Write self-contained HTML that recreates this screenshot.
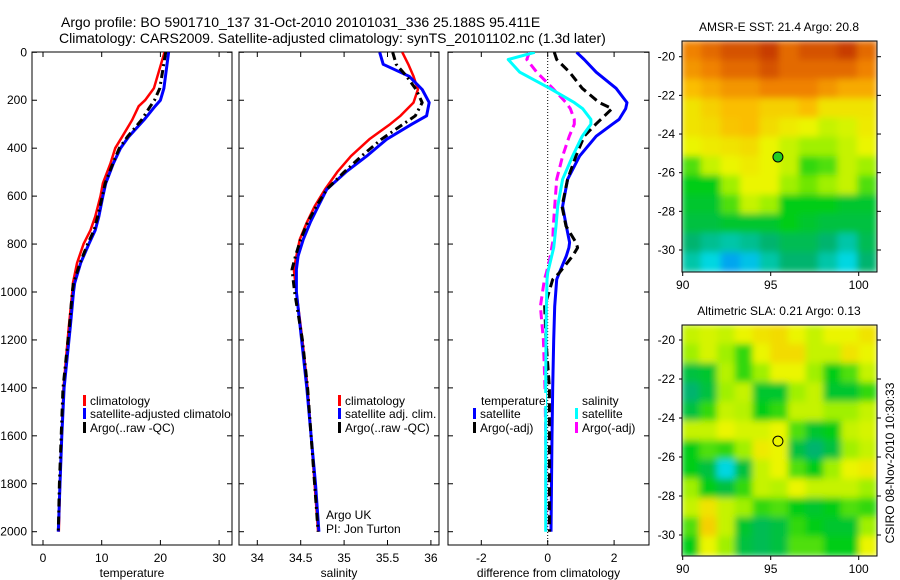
<!DOCTYPE html>
<html><head><meta charset="utf-8"><style>
html,body{margin:0;padding:0;background:#fff;}
svg{display:block;font-family:"Liberation Sans",sans-serif;}
</style></head><body>
<svg id="fig" width="900" height="580" viewBox="0 0 900 580" xmlns="http://www.w3.org/2000/svg">
<defs>
<clipPath id="c1"><rect x="32" y="52" width="200" height="493"/></clipPath>
<clipPath id="c2"><rect x="239" y="52" width="200" height="493"/></clipPath>
<clipPath id="c3"><rect x="448" y="52" width="201" height="493"/></clipPath>
<clipPath id="cm1"><rect x="682" y="41" width="195" height="231"/></clipPath>
<clipPath id="cm2"><rect x="682" y="325" width="195" height="231"/></clipPath>
<filter id="blur" x="-5%" y="-5%" width="110%" height="110%"><feGaussianBlur stdDeviation="3.5" edgeMode="duplicate"/></filter>
</defs>
<rect x="0" y="0" width="900" height="580" fill="#fff"/>
<text x="61" y="27" font-size="14">Argo profile: BO 5901710_137 31-Oct-2010 20101031_336 25.188S 95.411E</text>
<text x="59" y="43" font-size="14">Climatology: CARS2009. Satellite-adjusted climatology: synTS_20101102.nc (1.3d later)</text>
<g id="g"></g>
</svg>
<script>
// ---------- data ----------
const tDepth = [0,150,200,225,282,352,400,463,546,600,686,742,800,880,963,1000,1145,1400,1600,1800,2000];
const tClim  = [20.7,18.9,17.4,16.3,15.2,13.5,12.3,11.5,10.2,9.8,8.9,8.1,6.9,5.8,5.1,5.0,4.4,3.5,3.2,2.9,2.7];
const tSat   = [21.4,20.6,20.0,19.1,17.2,14.6,13.2,12.0,10.7,10.2,9.5,8.9,7.8,6.4,5.4,5.2,4.65,3.6,3.2,2.9,2.6];
const tArgo  = [20.9,19.9,19.0,18.3,16.8,14.4,13.0,11.9,10.6,10.1,9.3,8.7,7.6,6.3,5.2,5.0,4.5,3.4,3.1,2.8,2.6];
const sDepth = [0,50,100,155,210,265,300,363,433,500,572,643,710,780,850,906,1000,1200,1400,1600,1800,2000];
const sClim  = [35.67,35.74,35.8,35.85,35.8,35.65,35.53,35.29,35.08,34.92,34.78,34.66,34.57,34.49,34.45,34.42,34.45,34.52,34.58,34.62,34.66,34.70];
const sSat   = [35.41,35.45,35.75,35.9,35.98,35.95,35.78,35.49,35.26,35.02,34.8,34.7,34.61,34.53,34.47,34.45,34.45,34.51,34.57,34.62,34.67,34.71];
const sArgo  = [35.56,35.6,35.72,35.83,35.9,35.82,35.68,35.43,35.2,35.0,34.8,34.68,34.58,34.5,34.44,34.40,34.43,34.52,34.58,34.62,34.66,34.70];
const dDepth   = [0,30,83,150,210,235,280,300,350,433,530,643,725,793,815,850,920,948,1060,1200,1400,1600,2000];
const dTempSat = [0.87,1.1,1.46,2.06,2.39,2.35,2.15,1.95,1.46,0.96,0.6,0.45,0.56,0.66,0.64,0.56,0.35,0.27,0.21,0.18,0.15,0.13,0.1];
const dTempArgo= [0.2,0.27,0.66,1.04,1.55,1.94,1.6,1.45,1.1,0.85,0.6,0.43,0.55,0.85,0.9,0.75,0.35,0.15,-0.09,-0.05,0.05,0.05,0.05];
const dSalSat  = [-0.39,-1.19,-0.84,0.06,0.8,1.05,1.3,1.3,1.04,0.75,0.45,0.3,0.25,0.2,0.18,0.12,0.0,-0.02,-0.04,-0.05,-0.06,-0.06,-0.06];
const dSalArgo = [-0.55,-0.63,-0.33,0.15,0.55,0.68,0.8,0.8,0.65,0.45,0.27,0.21,0.17,0.15,0.12,0.08,-0.04,-0.1,-0.22,-0.13,-0.08,-0.06,-0.05];
const depthTicks = [0,200,400,600,800,1000,1200,1400,1600,1800,2000];
const tTicks = [0,10,20,30];
const sTicks = [34,34.5,35,35.5,36];
const dTicks = [-2,0,2];
const lonTicks = [90,95,100];
const latTicks = [-20,-22,-24,-26,-28,-30];
const argoLon = 95.411, argoLat = -25.188;
const sstGrid = [
[0.85,0.9,0.95,0.95,1,0.9,0.95,0.95,1,0.9],
[0.8,0.85,0.9,0.9,0.95,0.9,0.9,0.9,0.9,0.85],
[0.7,0.75,0.8,0.8,0.85,0.85,0.85,0.8,0.75,0.75],
[0.6,0.65,0.7,0.7,0.65,0.65,0.7,0.6,0.6,0.6],
[0.6,0.62,0.68,0.7,0.62,0.58,0.55,0.5,0.52,0.58],
[0.55,0.58,0.6,0.62,0.55,0.5,0.45,0.45,0.5,0.55],
[0.4,0.5,0.55,0.58,0.55,0.5,0.38,0.4,0.5,0.45],
[0.35,0.35,0.45,0.55,0.55,0.45,0.42,0.45,0.5,0.4],
[0.32,0.32,0.4,0.5,0.45,0.35,0.35,0.35,0.32,0.32],
[0.3,0.3,0.32,0.32,0.32,0.35,0.32,0.3,0.3,0.3],
[0.25,0.22,0.2,0.22,0.25,0.28,0.28,0.25,0.2,0.28],
[0.2,0.15,0.08,0.12,0.2,0.25,0.25,0.2,0.15,0.25]];
const slaGrid = [
[0.5,0.52,0.5,0.55,0.6,0.62,0.55,0.5,0.55,0.55,0.6],
[0.45,0.52,0.45,0.38,0.55,0.62,0.62,0.5,0.5,0.6,0.55],
[0.3,0.32,0.48,0.38,0.45,0.55,0.55,0.45,0.35,0.4,0.5],
[0.25,0.3,0.45,0.5,0.32,0.32,0.45,0.5,0.32,0.32,0.38],
[0.3,0.38,0.5,0.48,0.35,0.38,0.5,0.5,0.45,0.45,0.5],
[0.5,0.5,0.55,0.52,0.52,0.55,0.4,0.32,0.35,0.5,0.52],
[0.35,0.4,0.38,0.45,0.58,0.55,0.3,0.25,0.3,0.45,0.5],
[0.35,0.3,0.15,0.3,0.5,0.55,0.4,0.35,0.45,0.55,0.58],
[0.45,0.35,0.3,0.38,0.5,0.48,0.55,0.5,0.5,0.5,0.45],
[0.5,0.6,0.5,0.45,0.38,0.4,0.35,0.32,0.35,0.4,0.38],
[0.4,0.65,0.5,0.32,0.28,0.3,0.38,0.35,0.32,0.32,0.45],
[0.35,0.55,0.45,0.3,0.28,0.3,0.4,0.4,0.35,0.35,0.55]];

// ---------- helpers ----------
const NS = "http://www.w3.org/2000/svg";
const G = document.getElementById('g');
function el(tag, attrs, parent){ const e=document.createElementNS(NS,tag); for(const k in attrs) e.setAttribute(k,attrs[k]); (parent||G).appendChild(e); return e; }
function txt(x,y,s,size,anchor,parent){ const t=el('text',{x:x,y:y,'font-size':size||12,'text-anchor':anchor||'start'},parent); t.textContent=s; return t; }
const yD = d => 52.3 + d*0.2397;
const xT = v => 43 + v*5.87;
const xS = v => 257.3 + (v-34)*86.8;
const xDf = v => 547.7 + v*33.2;

function panel(x0,x1,xs,ticks,fmt,xlabel,name,showY){
  const g = el('g',{});
  
  
  const b = el('rect',{x:x0,y:52,width:x1-x0,height:493,fill:'none',stroke:'#000','stroke-width':1},g);
  
  
  ticks.forEach(v=>{
    const x=xs(v);
    el('line',{x1:x,y1:545,x2:x,y2:540,stroke:'#000'},g);
    el('line',{x1:x,y1:52,x2:x,y2:57,stroke:'#000'},g);
    const t=txt(x,562,fmt(v),12,'middle',g);
    
    
  });
  depthTicks.forEach(d=>{
    const y=yD(d);
    el('line',{x1:x0,y1:y,x2:x0+5,y2:y,stroke:'#000'},g);
    el('line',{x1:x1,y1:y,x2:x1-5,y2:y,stroke:'#000'},g);
    if(showY){
      const t=txt(x0-5,y+4,String(d),12,'end',g);
      
      
    }
  });
  const xl=txt((x0+x1)/2,577,xlabel,12,'middle',g);
  
  
  return g;
}
function line(depths, vals, xs, color, w, dash, clip, name){
  const pts = depths.map((d,i)=> xs(vals[i]).toFixed(1)+','+yD(d).toFixed(1)).join(' ');
  const p = el('polyline',{points:pts,fill:'none',stroke:color,'stroke-width':w,'stroke-linejoin':'round','clip-path':'url(#'+clip+')'});
  if(dash) p.setAttribute('stroke-dasharray',dash);
  
  
  return p;
}
function legendItem(x,y,color,label,name,parent){
  const m=el('rect',{x:x,y:y-10,width:3,height:11,fill:color},parent);
  
  
  const t=txt(x+7,y,label,12,'start',parent);
  
  
}

// ---------- panel 1: temperature ----------
panel(32,232,xT,tTicks,String,'temperature','temperature-panel',true);
line(tDepth,tClim,xT,'#ff0000',2.5,null,'c1','temp-climatology-line');
line(tDepth,tSat,xT,'#0000ff',3,null,'c1','temp-satellite-line');
line(tDepth,tArgo,xT,'#000',3,'8 4 2 4','c1','temp-argo-line');
const lg1 = el('g',{'clip-path':'url(#c1)'});


legendItem(83,405,'#ff0000','climatology','legend-climatology',lg1);
legendItem(83,418,'#0000ff','satellite-adjusted climatology','legend-satellite-adjusted',lg1);
legendItem(83,432,'#000','Argo(..raw -QC)','legend-argo-raw',lg1);

// ---------- panel 2: salinity ----------
panel(239,439,xS,sTicks,String,'salinity','salinity-panel',false);
line(sDepth,sClim,xS,'#ff0000',2.5,null,'c2','sal-climatology-line');
line(sDepth,sSat,xS,'#0000ff',3,null,'c2','sal-satellite-line');
line(sDepth,sArgo,xS,'#000',3,'8 4 2 4','c2','sal-argo-line');
legendItem(338,405,'#ff0000','climatology','legend-sal-climatology');
legendItem(338,418,'#0000ff','satellite adj. clim.','legend-sal-satellite');
legendItem(338,432,'#000','Argo(..raw -QC)','legend-sal-argo');
let t;
t=txt(326,519,'Argo UK',12);  
t=txt(326,533,'PI: Jon Turton',12);  

// ---------- panel 3: difference ----------
panel(448,649,xDf,dTicks,String,'difference from climatology','difference-panel',false);
const zl = el('line',{x1:xDf(0),y1:52,x2:xDf(0),y2:545,stroke:'#000','stroke-width':1,'stroke-dasharray':'1 2'});


line(dDepth,dTempSat,xDf,'#0000ff',3,null,'c3','diff-temp-satellite-line');
line(dDepth,dTempArgo,xDf,'#000',3,'9 5','c3','diff-temp-argo-line');
line(dDepth,dSalArgo,xDf,'#ff00ff',3,'9 5','c3','diff-sal-argo-line');
line(dDepth,dSalSat,xDf,'#00ffff',3,null,'c3','diff-sal-satellite-line');
el('rect',{x:480,y:393,width:66,height:13,fill:'#fff'});
t=txt(481,405,'temperature',12);  
t=txt(582,405,'salinity',12);  
legendItem(473,418,'#0000ff','satellite','legend-diff-temp-satellite');
legendItem(473,432,'#000','Argo(-adj)','legend-diff-temp-argo');
legendItem(575,418,'#00ffff','satellite','legend-diff-sal-satellite');
legendItem(575,432,'#ff00ff','Argo(-adj)','legend-diff-sal-argo');

// ---------- maps ----------
const stops=[[0,[0,110,255]],[0.15,[0,215,225]],[0.25,[0,180,110]],[0.35,[0,205,20]],[0.45,[160,240,0]],[0.55,[235,245,0]],[0.7,[250,190,0]],[0.85,[240,130,0]],[1,[200,60,0]]];
function cmap(v){
  for(let i=1;i<stops.length;i++){ if(v<=stops[i][0]){ const a=stops[i-1],b=stops[i]; const f=(v-a[0])/(b[0]-a[0]); const c=a[1].map((x,k)=>Math.round(x+(b[1][k]-x)*f)); return 'rgb('+c.join(',')+')'; } }
  return 'rgb(200,60,0)';
}
function map(top,grid,clip,title,name,y20,y30){
  const x0=682,x1=877,bottom=top+231;
  const g=el('g',{});
  
  
  const lonX = lon => 682.7 + (lon-90)*17.6;
  const latY = lat => y20 + (-20-lat)*(y30-y20)/10;
  const cg=el('g',{'clip-path':'url(#'+clip+')'},g);
  const ig=el('g',{filter:'url(#blur)'},cg);
  const rows=grid.length, cols=grid[0].length;
  const cw=(x1-x0)/cols, ch=(bottom-top)/rows;
  grid.forEach((row,r)=>row.forEach((v,c)=>{
    const cell=el('rect',{x:x0+c*cw-0.5,y:top+r*ch-0.5,width:cw+1,height:ch+1,fill:cmap(v)},ig);
    
    
  }));
  el('rect',{x:x0,y:top,width:x1-x0,height:bottom-top,fill:'none',stroke:'#000'},g);
  lonTicks.forEach(l=>{ const x=lonX(l); el('line',{x1:x,y1:bottom,x2:x,y2:bottom+4,stroke:'#000'},g);
    const tl=txt(x,bottom+17,String(l),12,'middle',g);   });
  latTicks.forEach(l=>{ const y=latY(l); el('line',{x1:x0,y1:y,x2:x0-3,y2:y,stroke:'#000'},g); el('line',{x1:x1,y1:y,x2:x1+4,y2:y,stroke:'#000'},g);
    const tl=txt(675,y+4,String(l),12,'end',g);   });
  const tt=txt(779,top-10,title,12,'middle',g);
  
  
  return {g,lonX,latY};
}
const m1=map(41,sstGrid,'cm1','AMSR-E SST: 21.4 Argo: 20.8','sst-map',56.7,250);
const mk1=el('circle',{cx:m1.lonX(argoLon),cy:m1.latY(argoLat),r:5,fill:'#22cc22',stroke:'#000','stroke-width':1},m1.g);


const m2=map(325,slaGrid,'cm2','Altimetric SLA: 0.21 Argo: 0.13','sla-map',340,535);
const mk2=el('circle',{cx:m2.lonX(argoLon),cy:m2.latY(argoLat),r:5,fill:'none',stroke:'#000','stroke-width':1},m2.g);


const cs=txt(0,0,'CSIRO 08-Nov-2010 10:30:33',12,'middle');
cs.setAttribute('transform','translate(894,463) rotate(-90)');


</script>
</body></html>
